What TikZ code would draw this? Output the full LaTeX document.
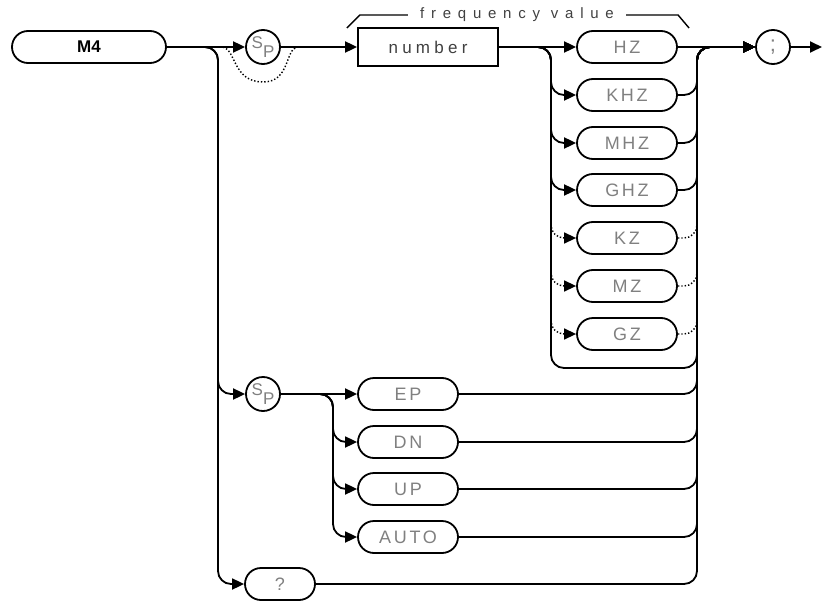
\documentclass[tikz,border=0pt]{standalone}
\usepackage{fontspec}
\setmainfont{Liberation Sans}
\newfontfamily\plotfont[LetterSpace=15]{Liberation Sans}
\newfontfamily\boxfont[LetterSpace=25]{Liberation Sans}
\newfontfamily\widefont[LetterSpace=45]{Liberation Sans}
\usetikzlibrary{arrows.meta,positioning,calc}

\begin{document}
\begin{tikzpicture}[
        x=1pt, y=1pt,
        line width=1.8pt,
        pill/.style={
            draw,
            rounded corners=16pt,
            minimum height=32pt,
            minimum width=100pt,
            inner sep=0pt,
            text=black!50,
            font=\plotfont\fontsize{18}{20}\selectfont
        },
        circ/.style={
            draw,
            circle,
            minimum size=34pt,
            inner sep=0pt,
            text=black!50,
            font=\fontsize{17}{19}\selectfont
        },
        box/.style={
            draw,
            minimum height=38pt,
            minimum width=140pt,
            inner sep=0pt,
            text=black!75,
            font=\boxfont\fontsize{17}{19}\selectfont
        },
        arrow/.style={
            -{Triangle[length=12pt,width=11pt]}
        },
        elbow/.style={
            rounded corners=13pt
        },
        dots/.style={
            dotted,
            line width=1.4pt
        }
    ]

        \useasboundingbox (0,0) rectangle (822,-602);

        % main path
        \node[pill, minimum width=154pt, text=black, font=\bfseries\fontsize{17}{19}\selectfont] (m4) at (89,-47) {M4};
        \node[circ] (sp1) at (263,-47) {\raisebox{3pt}{S}\raisebox{-6pt}{P}};
        \node[box] (num) at (428,-47) {number};
        \node[circ, font=\fontsize{22}{24}\selectfont] (semi) at (773,-47) {;};
        \coordinate (out) at (822,-47);

        % units
        \node[pill] (hz) at (627,-47) {HZ};
        \node[pill] (khz) at (627,-95) {KHZ};
        \node[pill] (mhz) at (627,-143) {MHZ};
        \node[pill] (ghz) at (627,-190) {GHZ};
        \node[pill] (kz) at (627,-238) {KZ};
        \node[pill] (mz) at (627,-286) {MZ};
        \node[pill] (gz) at (627,-334) {GZ};

        % lower branches
        \node[circ] (sp2) at (263,-394) {\raisebox{3pt}{S}\raisebox{-6pt}{P}};
        \node[pill] (ep) at (408,-394) {EP};
        \node[pill] (dn) at (408,-442) {DN};
        \node[pill] (up) at (408,-489) {UP};
        \node[pill] (auto) at (408,-537) {AUTO};
        \node[pill, minimum width=70pt] (query) at (280,-584) {?};

        % bus lines
        \coordinate (lbus) at (218,-47);
        \coordinate (ubus) at (551,-47);
        \coordinate (rbus) at (697,-47);
        \coordinate (sbus) at (333,-394);
        \coordinate (skip) at (0,-368);

        % frequency value bracket
        \node[font=\widefont\fontsize{15}{17}\selectfont, text=black!75] (fv) at (517,-15) {frequency value};
        \draw[line width=1.4pt] ([xshift=-8pt]fv.west) -- ++(-48,0) -- ++(-13,-13);
        \draw[line width=1.4pt] ([xshift=8pt]fv.east) -- ++(52,0) -- ++(11,-13);

        \draw[arrow] (m4) -- (sp1);
        \draw[arrow] (sp1) -- (num);
        \draw[arrow] (num) -- (hz);
        \draw[arrow] (hz) -- (semi);
        \draw[arrow] (semi) -- (out);

        % skip the space
        \draw[dots] ($(sp1)+(-40,0)$) .. controls ($(sp1)+(-27,-3)$) and ($(sp1)+(-30,-35)$) .. ($(sp1)+(0,-35)$)
            .. controls ($(sp1)+(27,-35)$) and ($(sp1)+(22,-3)$) .. ($(sp1)+(34,0)$);

        \draw[arrow, elbow] (m4.east) -| (lbus |- sp2) -- (sp2.west);
        \draw[arrow, elbow] (m4.east) -| (lbus |- query) -- (query.west);

        \draw[arrow, elbow] (num.east) -| (ubus |- khz) -- (khz.west);
        \draw[arrow, elbow] (num.east) -| (ubus |- mhz) -- (mhz.west);
        \draw[arrow, elbow] (num.east) -| (ubus |- ghz) -- (ghz.west);
        \draw[arrow, elbow] (num.east) -| (ubus |- skip) -| (rbus) -- (semi.west);
        \draw[dots, arrow, elbow] ($(ubus |- kz)+(0,14)$) |- (kz.west);
        \draw[dots, arrow, elbow] ($(ubus |- mz)+(0,14)$) |- (mz.west);
        \draw[dots, arrow, elbow] ($(ubus |- gz)+(0,14)$) |- (gz.west);

        \draw[arrow, elbow] (khz.east) -| (rbus) -- (semi.west);
        \draw[arrow, elbow] (mhz.east) -| (rbus) -- (semi.west);
        \draw[arrow, elbow] (ghz.east) -| (rbus) -- (semi.west);
        \draw[dots, elbow] (kz.east) -| ($(rbus |- kz)+(0,14)$);
        \draw[dots, elbow] (mz.east) -| ($(rbus |- mz)+(0,14)$);
        \draw[dots, elbow] (gz.east) -| ($(rbus |- gz)+(0,14)$);

        \draw[arrow] (sp2) -- (ep);
        \draw[arrow, elbow] (sp2.east) -| (sbus |- dn) -- (dn.west);
        \draw[arrow, elbow] (sp2.east) -| (sbus |- up) -- (up.west);
        \draw[arrow, elbow] (sp2.east) -| (sbus |- auto) -- (auto.west);

        \draw[arrow, elbow] (ep.east) -| (rbus) -- (semi.west);
        \draw[arrow, elbow] (dn.east) -| (rbus) -- (semi.west);
        \draw[arrow, elbow] (up.east) -| (rbus) -- (semi.west);
        \draw[arrow, elbow] (auto.east) -| (rbus) -- (semi.west);
        \draw[arrow, elbow] (query.east) -| (rbus) -- (semi.west);

    \end{tikzpicture}
\end{document}
